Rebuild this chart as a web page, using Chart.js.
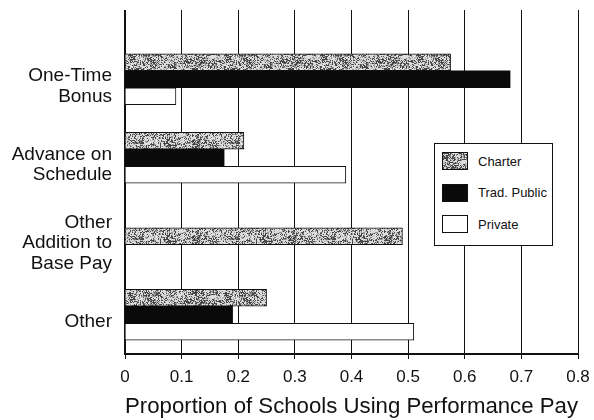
<!DOCTYPE html>
<html>
<head>
<meta charset="utf-8">
<script src="https://cdn.jsdelivr.net/npm/chart.js@4.4.1/dist/chart.umd.min.js"></script>
<style>
    html, body { margin: 0; padding: 0; background: #fff; }
    #wrap { position: relative; width: 594px; height: 420px; }
    #legend {
        position: absolute; left: 434px; top: 143px; width: 119px; height: 103px;
        box-sizing: border-box; border: 1.5px solid #111; background: #fff;
        font-family: 'Liberation Sans', Arial, sans-serif; font-size: 13px; color: #111;
    }
    #legend .item { position: absolute; left: 7px; height: 18px; display: flex; align-items: center; }
    #legend .swatch { width: 26px; height: 18px; box-sizing: border-box; border: 1px solid #111; margin-right: 10px; }
</style>
</head>
<body>
<div id="wrap">
    <canvas id="chart" width="594" height="420"></canvas>
    <div id="legend"></div>
</div>
<script>
// 数据
const categories = [['One-Time', 'Bonus'], ['Advance on', 'Schedule'], ['Other', 'Addition to', 'Base Pay'], 'Other'];
const seriesNames = ['Charter', 'Trad. Public', 'Private'];
const charterValues = [0.575, 0.21, 0.49, 0.25];
const tradPublicValues = [0.68, 0.175, null, 0.19];
const privateValues = [0.09, 0.39, null, 0.51];
const xTicks = [0, 0.1, 0.2, 0.3, 0.4, 0.5, 0.6, 0.7, 0.8];
const xTitle = 'Proportion of Schools Using Performance Pay';

document.addEventListener('DOMContentLoaded', function() {
    Chart.defaults.font.family = "'Liberation Sans', Arial, sans-serif";
    Chart.defaults.color = '#111';

    const stipple = makeStipple();
    const ctx = document.getElementById('chart').getContext('2d');
    const pattern = ctx.createPattern(stipple, 'repeat');

    // 竖线向上延伸到图区上方
    const gridExtend = {
        id: 'gridExtend',
        beforeDatasetsDraw(chart) {
            const c = chart.ctx;
            const xs = chart.scales.x;
            c.save();
            c.strokeStyle = '#111';
            xTicks.forEach(function(v) {
                const w = v === 0 ? 2 : 1;
                const x = Math.round(xs.getPixelForValue(v) - w / 2) + w / 2;
                c.lineWidth = w;
                c.beginPath();
                c.moveTo(x, 10);
                c.lineTo(x, chart.chartArea.top);
                c.stroke();
            });
            c.restore();
        }
    };

    new Chart(ctx, {
        type: 'bar',
        data: {
            labels: categories,
            datasets: [{
                label: seriesNames[0],
                data: charterValues,
                backgroundColor: pattern,
                borderColor: '#111',
                borderWidth: 1
            }, {
                label: seriesNames[1],
                data: tradPublicValues,
                backgroundColor: '#0a0a0a',
                borderWidth: 0
            }, {
                label: seriesNames[2],
                data: privateValues,
                backgroundColor: '#ffffff',
                borderColor: '#111',
                borderWidth: 1
            }]
        },
        options: {
            indexAxis: 'y',
            responsive: false,
            animation: false,
            skipNull: true,
            barThickness: 17,
            layout: { padding: { top: 40, right: 16, bottom: 0, left: 0 } },
            plugins: {
                legend: { display: false },
                tooltip: { enabled: false }
            },
            scales: {
                x: {
                    min: 0,
                    max: 0.8,
                    afterBuildTicks: function(scale) {
                        scale.ticks = xTicks.map(v => ({ value: v }));
                    },
                    afterFit: function(scale) {
                        scale.height = 66;
                        scale.paddingLeft = 0;
                        scale.paddingRight = 0;
                    },
                    grid: { color: '#111', lineWidth: 1, tickLength: 5 },
                    border: { display: true, color: '#111', width: 2 },
                    ticks: {
                        padding: 8,
                        maxRotation: 0,
                        font: { size: 17 },
                        callback: function(value) {
                            return value === 0 ? '0' : value.toFixed(1);
                        }
                    },
                    title: {
                        display: true,
                        text: xTitle,
                        font: { size: 22.7 },
                        padding: { top: 0, bottom: 0 }
                    }
                },
                y: {
                    afterFit: function(scale) { scale.width = 125; },
                    grid: { display: false, drawTicks: false },
                    border: { display: true, color: '#111', width: 2 },
                    ticks: {
                        padding: 13,
                        labelOffset: 7,
                        font: { size: 19, lineHeight: 1.1 }
                    }
                }
            }
        },
        plugins: [gridExtend]
    });

    buildLegend(stipple);

    // 图例
    function buildLegend(stippleCanvas) {
        const legend = document.getElementById('legend');
        const fills = ['url(' + stippleCanvas.toDataURL() + ')', '#0a0a0a', '#ffffff'];
        seriesNames.forEach(function(name, i) {
            const item = document.createElement('div');
            item.className = 'item';
            item.style.top = (8 + i * 31.5) + 'px';
            const sw = document.createElement('span');
            sw.className = 'swatch';
            sw.style.background = fills[i];
            const label = document.createElement('span');
            label.textContent = name;
            item.appendChild(sw);
            item.appendChild(label);
            legend.appendChild(item);
        });
    }

    // 灰色点状纹理（确定性哈希，不是数据）
    function makeStipple() {
        const w = 96, h = 48;
        const c = document.createElement('canvas');
        c.width = w; c.height = h;
        const g = c.getContext('2d');
        const img = g.createImageData(w, h);
        for (let y = 0; y < h; y++) {
            for (let x = 0; x < w; x++) {
                const n = hash(x, y);
                const clump = hash(x >> 3, (y >> 2) + 101);
                const t = 0.12 + 0.5 * clump * clump;
                const v = n < t ? 70 : (n < t + 0.2 ? 150 : 220);
                const k = (y * w + x) * 4;
                img.data[k] = v; img.data[k + 1] = v; img.data[k + 2] = v; img.data[k + 3] = 255;
            }
        }
        g.putImageData(img, 0, 0);
        return c;
    }

    function hash(x, y) {
        let n = Math.imul(x, 374761393) + Math.imul(y, 668265263);
        n = Math.imul(n ^ (n >>> 13), 1274126177);
        return ((n ^ (n >>> 16)) >>> 0) / 4294967295;
    }
});
</script>
</body>
</html>
